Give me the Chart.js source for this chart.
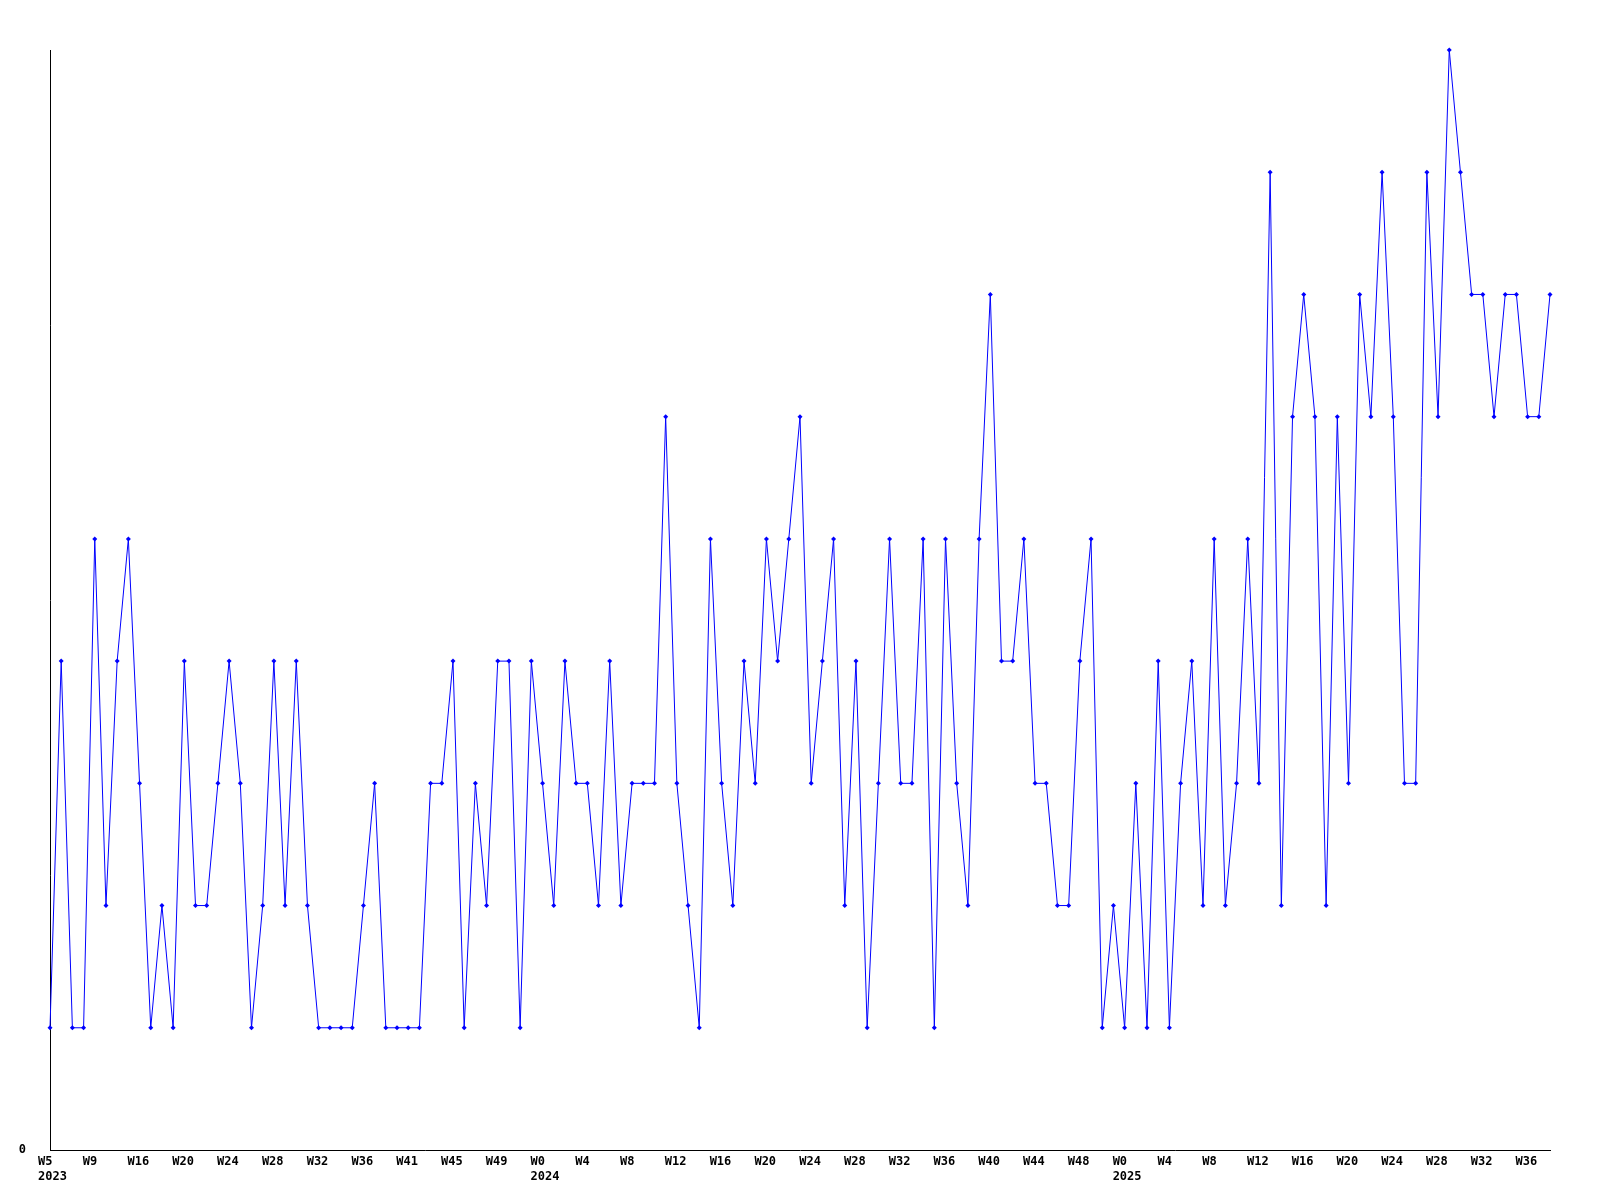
<!DOCTYPE html>
<html>
<head>
<meta charset="utf-8">
<style>
html,body{margin:0;padding:0;background:#ffffff;}
#wrap{width:1600px;height:1200px;}
</style>
<script src="https://cdn.jsdelivr.net/npm/chart.js@4/dist/chart.umd.min.js"></script>
</head>
<body>
<div id="wrap"><canvas id="c" width="1600" height="1200"></canvas></div>
<script>
// Tick labels (one every 4th point)
const weekLabels = ['W5','W9','W16','W20','W24','W28','W32','W36','W41','W45','W49',
  'W0','W4','W8','W12','W16','W20','W24','W28','W32','W36','W40','W44','W48',
  'W0','W4','W8','W12','W16','W20','W24','W28','W32','W36'];
const yearLabels = ['2023','','','','','','','','','','',
  '2024','','','','','','','','','','','','',
  '2025','','','','','','','','',''];

// Series values (one per week)
const values = [
  1,4,1,1,5,2,4,5,3,1,
  2,1,4,2,2,3,4,3,1,2,
  4,2,4,2,1,1,1,1,2,3,
  1,1,1,1,3,3,4,1,3,2,
  4,4,1,4,3,2,4,3,3,2,
  4,2,3,3,3,6,3,2,1,5,
  3,2,4,3,5,4,5,6,3,4,
  5,2,4,1,3,5,3,3,5,1,
  5,3,2,5,7,4,4,5,3,3,
  2,2,4,5,1,2,1,3,1,4,
  1,3,4,2,5,2,3,5,3,8,
  2,6,7,6,2,6,3,7,6,8,
  6,3,3,8,6,9,8,7,7,6,
  7,7,6,6,7
];
const yTickValues = [0];
const LABEL_EVERY = 4;

const categories = values.map((_, i) => i);
const tickFont = {family: '"DejaVu Sans Mono", "Liberation Mono", monospace', size: 12, weight: 'bold', lineHeight: 1.21};

new Chart(document.getElementById('c'), {
  type: 'line',
  data: {
    labels: categories,
    datasets: [{
      data: values,
      borderColor: '#0000ff',
      backgroundColor: '#0000ff',
      borderWidth: 1,
      pointStyle: 'rectRot',
      pointRadius: 2.5,
      pointBorderWidth: 0,
      pointBackgroundColor: '#0000ff',
      tension: 0,
      fill: false,
      clip: false
    }]
  },
  options: {
    responsive: false,
    devicePixelRatio: 1,
    animation: false,
    layout: {padding: {top: 50, right: 50, left: 0, bottom: 0}},
    plugins: {legend: {display: false}, tooltip: {enabled: false}, title: {display: false}},
    scales: {
      x: {
        type: 'category',
        offset: false,
        grid: {display: false, drawTicks: false},
        border: {display: true, color: '#000000', width: 1},
        ticks: {
          autoSkip: false,
          maxRotation: 0,
          minRotation: 0,
          align: 'start',
          labelOffset: -12,
          padding: 5,
          color: '#000000',
          font: tickFont,
          callback: function(value, index) {
            if (index % LABEL_EVERY !== 0) return '';
            const k = index / LABEL_EVERY;
            if (k >= weekLabels.length) return '';
            return yearLabels[k] ? [weekLabels[k], yearLabels[k]] : weekLabels[k];
          }
        },
        afterFit: function(scale) { scale.height = 50; }
      },
      y: {
        type: 'linear',
        min: 0,
        max: 9,
        grid: {display: false, drawTicks: false},
        border: {display: true, color: '#000000', width: 1},
        ticks: {
          padding: 24,
          color: '#000000',
          font: tickFont,
          callback: function(v) { return String(v); }
        },
        afterBuildTicks: function(scale) { scale.ticks = yTickValues.map(v => ({value: v})); },
        afterFit: function(scale) { scale.width = 50; }
      }
    }
  }
});
</script>
</body>
</html>
